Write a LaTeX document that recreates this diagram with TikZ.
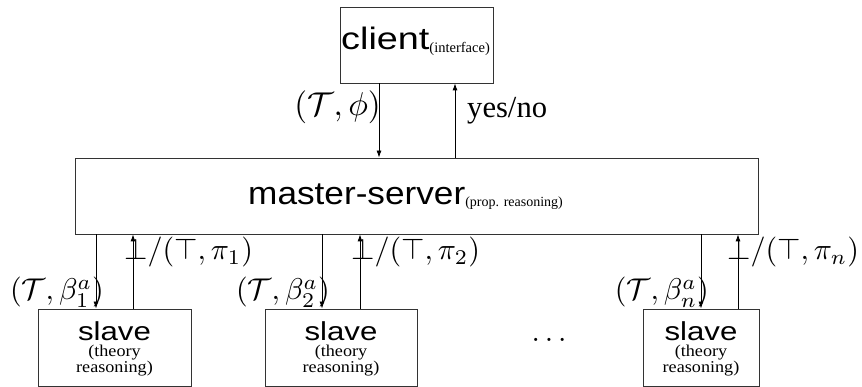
\documentclass[tikz,border=0pt]{standalone}
\usepackage[no-math]{fontspec}
\setmainfont{Liberation Serif}
\setsansfont{Liberation Sans}
\usepackage{graphicx}
\usetikzlibrary{arrows.meta}
\newcommand\hsx[2]{\scalebox{#1}[1]{#2}}
\newcommand\fsz[1]{\fontsize{#1}{#1}\selectfont}
\newcommand\mth[2]{\scalebox{#1}{$#2$}}
\begin{document}
\begin{tikzpicture}[x=1pt,y=-1pt,
  box/.style={draw=black!80, line width=0.8pt, inner sep=0pt, rectangle},
  arr/.style={-{Latex[length=7pt,width=5pt]}, line width=0.8pt},
  lbl/.style={inner sep=0pt, anchor=base},
  bigsf/.style={lbl, font=\sffamily},
  smrm/.style={lbl, font=\rmfamily\fsz{16.5}},
  mlab/.style={inner sep=0pt, font=\fsz{10}}]
\useasboundingbox (0,0) rectangle (862,387);
% boxes
\node[box, minimum width=153pt, minimum height=76pt] (client) at (416.5,45) {};
\node[box, minimum width=683pt, minimum height=76pt] (master) at (416.5,196) {};
\node[box, minimum width=153pt, minimum height=77pt] (s1) at (114.5,347.5) {};
\node[box, minimum width=152pt, minimum height=77pt] (s2) at (341,347.5) {};
\node[box, minimum width=116pt, minimum height=77pt] (sn) at (701,347.5) {};
% box texts
\node[lbl, anchor=base west] (clientt) at (341,50) {\sffamily\fsz{31}\hsx{1.22}{client}\raisebox{-3pt}{\rmfamily\fsz{14.5}(interface)}};
\node[lbl, anchor=base west] (mastert) at (248,205) {\sffamily\fsz{32}\hsx{1.1}{master-server}\raisebox{-2pt}{\rmfamily\fsz{14}(prop. reasoning)}};
\foreach \n/\cx in {1/114.5, 2/341, n/701}{
  \node[bigsf] (sa\n) at (\cx,340) {\fsz{26}\hsx{1.2}{slave}};
  \node[smrm] (sb\n) at (\cx,356) {\hsx{1.1}{(theory}};
  \node[smrm] (sc\n) at (\cx,372) {\hsx{1.1}{reasoning)}};
}
\node[mlab, anchor=base] (dots) at (549,341.5) {\mth{3}{\dots}};
% connector x positions
\coordinate (cd) at (379,0);
\coordinate (cu) at (455,0);
\coordinate (d1) at (96,0);
\coordinate (u1) at (133,0);
\coordinate (d2) at (322,0);
\coordinate (u2) at (360,0);
\coordinate (dn) at (701,0);
\coordinate (un) at (738,0);
\draw[arr] (client.south -| cd) -- (master.north -| cd);
\draw[arr] (master.north -| cu) -- (client.south -| cu);
\draw[arr] (master.south -| d1) -- (s1.north -| d1);
\draw[arr] (s1.north -| u1) -- (master.south -| u1);
\draw[arr] (master.south -| d2) -- (s2.north -| d2);
\draw[arr] (s2.north -| u2) -- (master.south -| u2);
\draw[arr] (master.south -| dn) -- (sn.north -| dn);
\draw[arr] (sn.north -| un) -- (master.south -| un);
% labels
\node[mlab, anchor=base east] (lphi) at (381,116) {\mth{3.3}{(\mathcal{T},\phi)}};
\node[inner sep=0pt, anchor=base west, font=\rmfamily\fsz{30.6}] (lyes) at (467,118) {yes/no};
\node[mlab, anchor=base west] (lp1) at (124,260) {\mth{3}{\bot/(\top,\pi_1)}};
\node[mlab, anchor=base west] (lp2) at (351,260) {\mth{3}{\bot/(\top,\pi_2)}};
\node[mlab, anchor=base west] (lpn) at (727,260) {\mth{3}{\bot/(\top,\pi_n)}};
\node[mlab, anchor=base east] (lb1) at (104,300) {\mth{3}{(\mathcal{T},\beta_1^a)}};
\node[mlab, anchor=base east] (lb2) at (330,300) {\mth{3}{(\mathcal{T},\beta_2^a)}};
\node[mlab, anchor=base east] (lbn) at (709,300) {\mth{3}{(\mathcal{T},\beta_n^a)}};
\end{tikzpicture}
\end{document}
